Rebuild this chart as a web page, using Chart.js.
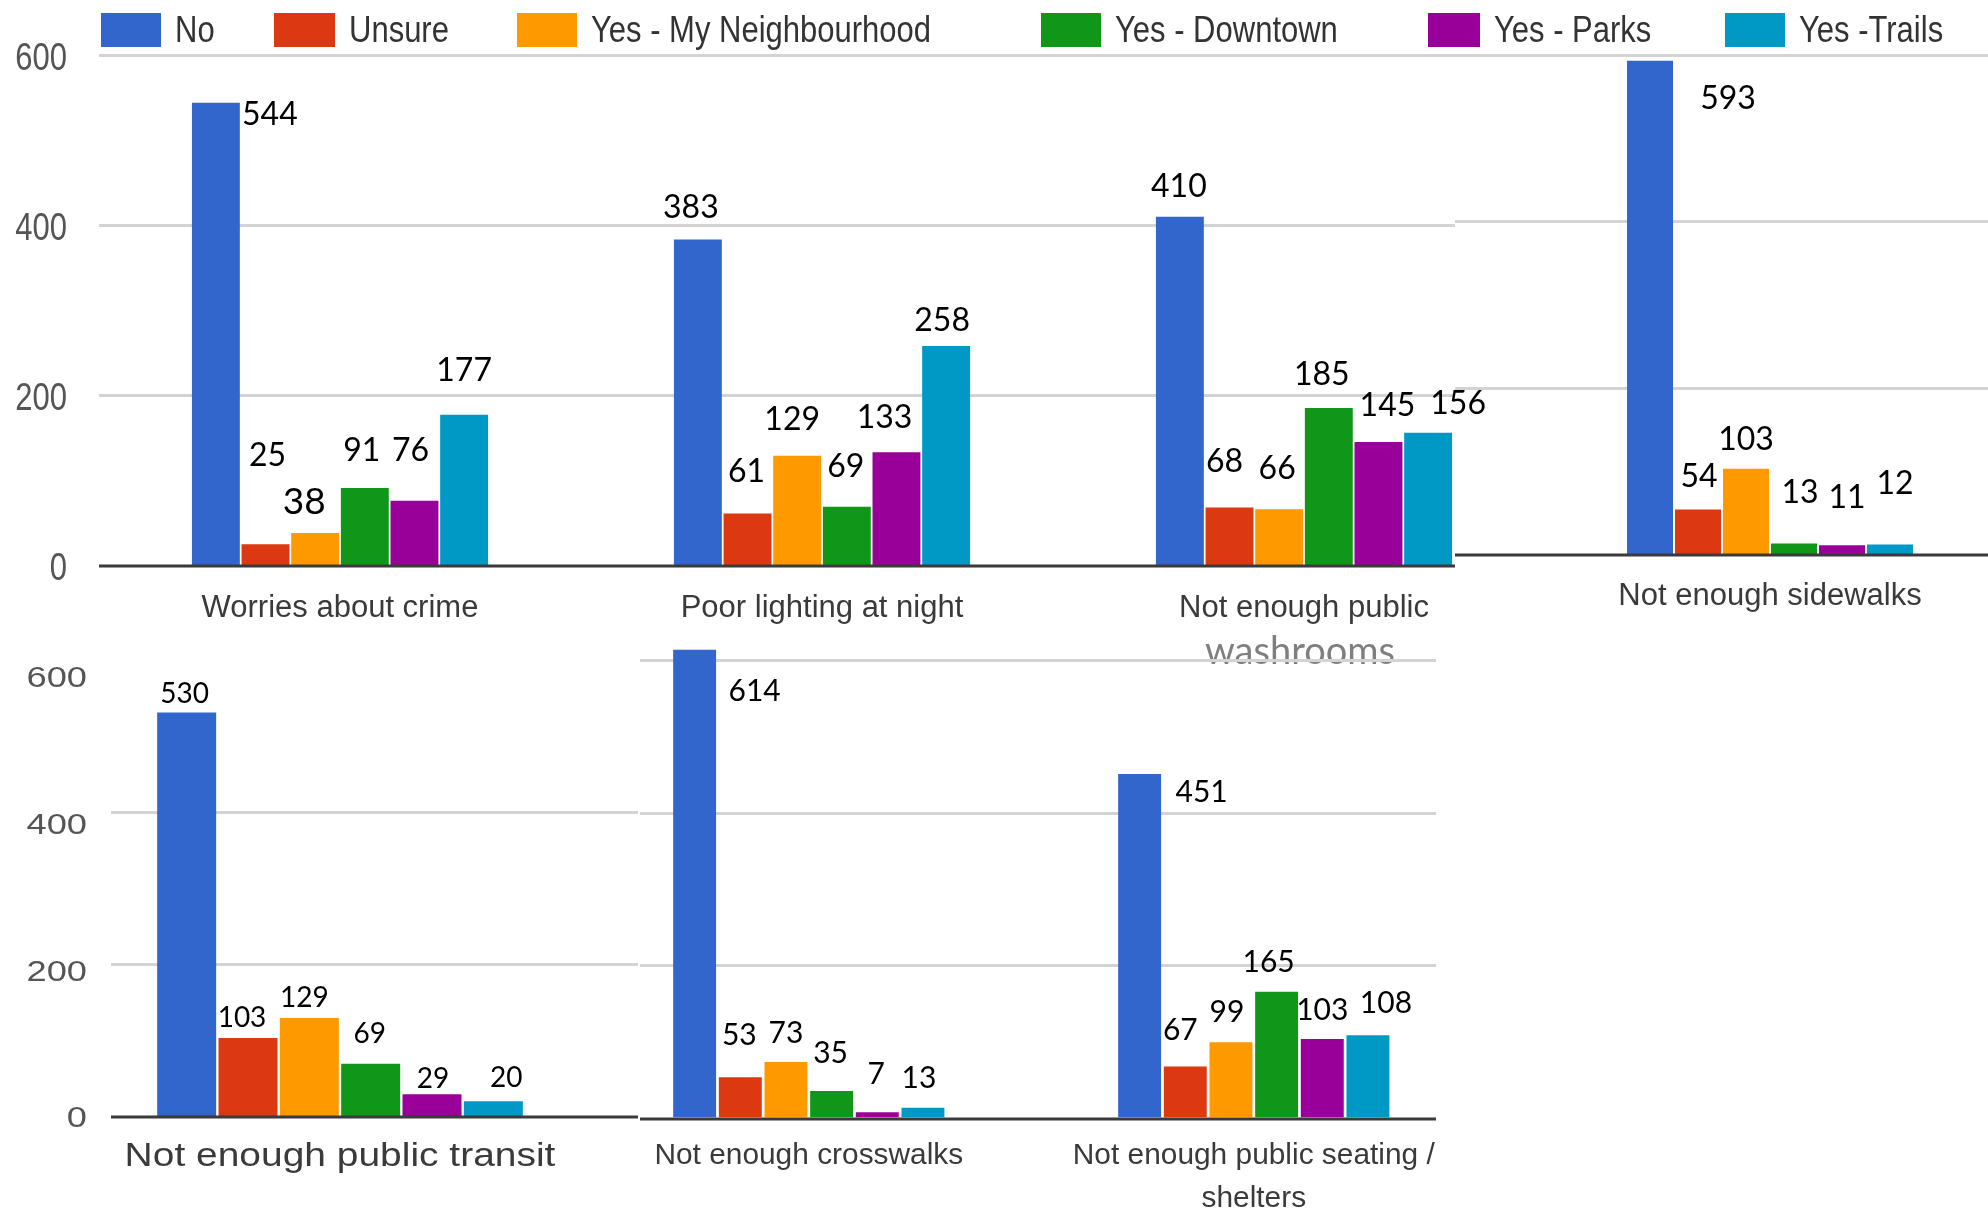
<!DOCTYPE html>
<html>
<head>
<meta charset="utf-8">
<script src="https://cdn.jsdelivr.net/npm/chart.js@4.4.0/dist/chart.umd.min.js"></script>
<style>
  html, body { margin: 0; padding: 0; background: #fff; }
  #hoja { position: relative; width: 1988px; height: 1217px; overflow: hidden; background: #fff; }
  #hoja canvas { position: absolute; }
</style>
</head>
<body>
<div id="hoja">
  <canvas id="g1" width="1988" height="700" style="left:0;top:0"></canvas>
  <canvas id="g2" width="533" height="640" style="left:1455px;top:0"></canvas>
  <canvas id="g3" width="640" height="617" style="left:0;top:600px"></canvas>
  <canvas id="g4" width="900" height="617" style="left:600px;top:600px"></canvas>
</div>
<script>
// categorias (las 7 preguntas) y series
var categorias = [
    'Worries about crime',
    'Poor lighting at night',
    'Not enough public\nwashrooms',
    'Not enough sidewalks',
    'Not enough public transit',
    'Not enough crosswalks',
    'Not enough public seating /\nshelters'
];
var series = ['No', 'Unsure', 'Yes - My Neighbourhood', 'Yes - Downtown', 'Yes - Parks', 'Yes -Trails'];

var valNo = [544, 383, 410, 593, 530, 614, 451];
var valUnsure = [25, 61, 68, 54, 103, 53, 67];
var valBarrio = [38, 129, 66, 103, 129, 73, 99];
var valDowntown = [91, 69, 185, 13, 69, 35, 165];
var valParks = [76, 133, 145, 11, 29, 7, 103];
var valTrails = [177, 258, 156, 12, 20, 13, 108];

var yTicks = [0, 200, 400, 600];

var valores = [valNo, valUnsure, valBarrio, valDowntown, valParks, valTrails];
var colores = ['#3366cc', '#dc3912', '#ff9900', '#109618', '#990099', '#0099c6'];

// donde va cada numero respecto a la punta de su barra [dx, dy, tamaño opcional]
var desplaz = [
    [[54, 12], [2, -88], [-11, -31, 37], [-3, -37], [-4, -50], [0, -44]],
    [[-7, -32], [-1, -42], [-5, -36], [-1, -40], [-12, -35], [-4, -25]],
    [[-1, -30], [-5, -46], [-2, -41], [-7, -33], [9, -36], [30, -29]],
    [[78, 38], [1, -33], [0, -29], [6, -51], [5, -48], [5, -61]],
    [[-2, -19], [-6, -20], [-5, -20], [-1, -30], [1, -15], [13, -23]],
    [[60, 42], [-1, -42], [0, -29], [-1, -38], [-1, -38], [-4, -29]],
    [[62, 18], [-5, -36], [-4, -30], [-8, -30], [0, -29], [18, -32]]
];

var ARIAL = '"Liberation Sans", Arial, sans-serif';

// texto estirado (las capturas originales estaban deformadas)
function textoEstirado(ctx, str, x, y, sx, sy) {
    ctx.save();
    ctx.translate(x, y);
    ctx.scale(sx, sy);
    ctx.fillText(str, 0, 0);
    ctx.restore();
}

// lineas de la cuadricula y linea base
var rejilla = {
    id: 'rejilla',
    beforeDatasetsDraw: function (chart, args, o) {
        var ctx = chart.ctx, y = chart.scales.y;
        ctx.save();
        ctx.strokeStyle = '#d3d3d3';
        ctx.lineWidth = 3;
        o.lineas.forEach(function (v) {
            var py = Math.round(y.getPixelForValue(v)) + 0.5;
            ctx.beginPath();
            ctx.moveTo(o.x0, py);
            ctx.lineTo(o.x1, py);
            ctx.stroke();
        });
        ctx.restore();
    },
    afterDatasetsDraw: function (chart, args, o) {
        var ctx = chart.ctx, y = chart.scales.y;
        var py = Math.round(y.getPixelForValue(0)) + 1;
        ctx.save();
        ctx.strokeStyle = '#3a3a3a';
        ctx.lineWidth = 3;
        ctx.beginPath();
        ctx.moveTo(o.x0, py);
        ctx.lineTo(o.x1, py);
        ctx.stroke();
        ctx.restore();
    }
};

// numeros encima de las barras
var etiquetas = {
    id: 'etiquetas',
    afterDatasetsDraw: function (chart, args, o) {
        var ctx = chart.ctx;
        ctx.save();
        ctx.fillStyle = '#000';
        ctx.textAlign = 'center';
        ctx.textBaseline = 'middle';
        chart.data.datasets.forEach(function (ds, s) {
            var meta = chart.getDatasetMeta(s);
            meta.data.forEach(function (bar, k) {
                var c = o.idx[k];
                var d = desplaz[c][s];
                ctx.font = (d[2] || o.size) + 'px Lato, "Noto Sans", sans-serif';
                ctx.fillText(String(valores[s][c]), bar.x + d[0], bar.y + d[1]);
            });
        });
        ctx.restore();
    }
};

// leyenda, textos de los ejes (estirados) y segunda linea de "washrooms"
var extras = {
    id: 'extras',
    afterDraw: function (chart, args, o) {
        var ctx = chart.ctx;
        ctx.save();
        if (o.leyenda) {
            ctx.textBaseline = 'middle';
            ctx.textAlign = 'left';
            ctx.font = '31px ' + ARIAL;
            chart.data.datasets.forEach(function (ds, s) {
                var lx = o.leyenda.x[s], bw = o.leyenda.w[s];
                ctx.fillStyle = ds.backgroundColor;
                ctx.fillRect(lx, 13, bw, 34);
                ctx.fillStyle = '#333';
                textoEstirado(ctx, ds.label, lx + bw + 14, 32, 1, 1.17);
            });
        }
        if (o.yTexto) {
            var t = o.yTexto, ys = chart.scales[t.eje];
            ctx.textAlign = 'right';
            ctx.textBaseline = 'middle';
            ctx.font = t.size + 'px ' + ARIAL;
            ctx.fillStyle = '#555';
            ys.ticks.forEach(function (tk) {
                textoEstirado(ctx, String(tk.value), t.x, ys.getPixelForValue(tk.value) + t.dy, t.sx, t.sy);
            });
        }
        var xs = chart.scales.x;
        if (o.xTexto) {
            var xt = o.xTexto;
            ctx.textAlign = 'center';
            ctx.textBaseline = 'middle';
            ctx.font = xt.size + 'px ' + ARIAL;
            ctx.fillStyle = '#3a3a3a';
            o.idx.forEach(function (c, k) {
                var partes = categorias[c].split('\n');
                var px = xs.getPixelForValue(k);
                textoEstirado(ctx, partes[0], px, xt.y, xt.sx, 1);
                if (partes.length > 1 && !o.segunda) {
                    textoEstirado(ctx, partes[1], px, xt.y + xt.salto, xt.sx, 1);
                }
            });
        }
        if (o.segunda) {
            ctx.textAlign = 'center';
            ctx.textBaseline = 'middle';
            ctx.font = '38px Lato, "Noto Sans", sans-serif';
            ctx.fillStyle = '#7f7f7f';
            o.idx.forEach(function (c, k) {
                var partes = categorias[c].split('\n');
                if (partes.length > 1) {
                    ctx.fillText(partes[1], xs.getPixelForValue(k) - 4, o.segunda);
                }
            });
        }
        ctx.restore();
    }
};

function hacerPanel(id, cfg) {
    var idx = cfg.idx;
    var datasets = series.map(function (nombre, s) {
        return {
            label: nombre,
            data: idx.map(function (c, k) { return { x: k, y: valores[s][c] }; }),
            backgroundColor: colores[s],
            borderWidth: 0,
            categoryPercentage: cfg.cp,
            barPercentage: cfg.bp
        };
    });

    var escalas = {
        x: {
            type: 'linear',
            min: cfg.xMin,
            max: cfg.xMax,
            offset: false,
            bounds: 'data',
            grid: { display: false, drawTicks: false },
            border: { display: false },
            afterBuildTicks: function (sc) {
                sc.ticks = idx.map(function (c, k) { return { value: k }; });
            },
            afterFit: function (sc) { sc.height = cfg.xH; },
            ticks: {
                autoSkip: false,
                maxRotation: 0,
                minRotation: 0,
                color: 'rgba(0,0,0,0)',
                font: { family: ARIAL, size: cfg.xTexto.size },
                callback: function (v, i) { return categorias[idx[i]].split('\n')[0]; }
            }
        },
        y: {
            type: 'linear',
            min: 0,
            max: cfg.yMax,
            display: !!cfg.yAncho,
            grid: { display: false, drawTicks: false },
            border: { display: false },
            afterBuildTicks: function (sc) {
                sc.ticks = yTicks.map(function (v) { return { value: v }; });
            },
            afterFit: function (sc) { if (cfg.yAncho) sc.width = cfg.yAncho; },
            ticks: { color: 'rgba(0,0,0,0)', font: { family: ARIAL, size: 31 } }
        }
    };
    if (cfg.yLab) {
        escalas.yLab = {
            type: 'linear',
            axis: 'y',
            position: 'left',
            min: 0,
            max: cfg.yLab.max,
            grid: { display: false, drawTicks: false },
            border: { display: false },
            afterBuildTicks: function (sc) {
                sc.ticks = yTicks.map(function (v) { return { value: v }; });
            },
            afterFit: function (sc) { sc.width = cfg.yLab.ancho; },
            ticks: { color: 'rgba(0,0,0,0)', font: { family: ARIAL, size: 29 } }
        };
    }

    return new Chart(document.getElementById(id).getContext('2d'), {
        type: 'bar',
        data: { datasets: datasets },
        options: {
            responsive: false,
            animation: false,
            events: [],
            layout: { padding: { top: cfg.padTop, left: 0, right: 0, bottom: 0 } },
            scales: escalas,
            plugins: {
                legend: { display: false },
                tooltip: { enabled: false },
                rejilla: { x0: cfg.rej[0], x1: cfg.rej[1], lineas: cfg.lineas },
                etiquetas: { idx: idx, size: cfg.numFont },
                extras: {
                    leyenda: cfg.leyenda || null,
                    yTexto: cfg.yTexto || null,
                    xTexto: cfg.xTexto,
                    segunda: cfg.segunda || 0,
                    idx: idx
                }
            }
        },
        plugins: [rejilla, etiquetas, extras]
    });
}

// fila de arriba: tres preguntas + leyenda
hacerPanel('g1', {
    idx: [0, 1, 2], cp: 0.618, bp: 0.965,
    xMin: -0.5, xMax: 3.4191, padTop: 55, xH: 134.6, yMax: 600,
    yAncho: 99,
    yTexto: { eje: 'y', x: 67, size: 31, sx: 1, sy: 1.27, dy: 4 },
    xTexto: { size: 31, sx: 1, y: 608, salto: 0 },
    rej: [99, 1455], lineas: [200, 400, 600],
    numFont: 32, segunda: 652,
    leyenda: { x: [101, 274, 517, 1041, 1428, 1725], w: [60, 61, 60, 60, 52, 60] }
});

// arriba a la derecha: aceras
hacerPanel('g2', {
    idx: [3], cp: 0.5403, bp: 0.958,
    xMin: -0.591, xMax: 0.409, padTop: 55, xH: 85.6, yMax: 600,
    xTexto: { size: 31, sx: 1, y: 596, salto: 0 },
    rej: [0, 533], lineas: [200, 400, 600],
    numFont: 32
});

// abajo a la izquierda: transporte publico
hacerPanel('g3', {
    idx: [4], cp: 0.6957, bp: 0.962,
    xMin: -0.4329, xMax: 0.5671, padTop: 66.8, xH: 100.6, yMax: 590,
    yLab: { max: 612.5, ancho: 111 },
    yTexto: { eje: 'yLab', x: 87, size: 29, sx: 1.25, sy: 1, dy: 3 },
    xTexto: { size: 33, sx: 1.18, y: 557, salto: 0 },
    rej: [111, 638], lineas: [200, 400],
    numFont: 28
});

// abajo: pasos de peatones y bancos
hacerPanel('g4', {
    idx: [5, 6], cp: 0.6157, bp: 0.94,
    xMin: -0.4692, xMax: 1.5533, padTop: 45.16, xH: 99.4, yMax: 620,
    xTexto: { size: 29, sx: 1.03, y: 556, salto: 43 },
    rej: [40, 836], lineas: [200, 400, 600],
    numFont: 30
});
</script>
</body>
</html>
